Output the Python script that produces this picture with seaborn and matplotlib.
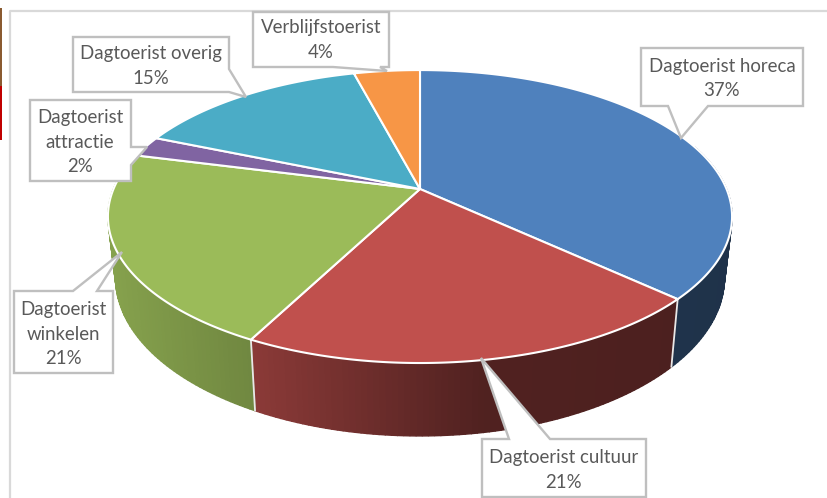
import numpy as np
import matplotlib
matplotlib.use("Agg")
import matplotlib.pyplot as plt
import seaborn as sns

categories = ["Dagtoerist horeca", "Dagtoerist cultuur", "Dagtoerist winkelen",
              "Dagtoerist attractie", "Dagtoerist overig", "Verblijfstoerist"]
values = [36.9, 20.7, 21.4, 2.3, 14.6, 4.1]
colors = ["#4F81BD", "#C0504D", "#9BBB59", "#8064A2", "#4BACC6", "#F79646"]
label_text = ["Dagtoerist horeca", "Dagtoerist cultuur", "Dagtoerist\nwinkelen",
              "Dagtoerist\nattractie", "Dagtoerist overig", "Verblijfstoerist"]
# callout outlines in figure pixels
callouts = [
    [(641, 48), (803, 48), (803, 106), (708, 106), (681, 138), (668, 106), (641, 106)],
    [(482, 439), (509, 439), (481, 358), (550, 439), (646, 439), (646, 497), (482, 497)],
    [(14, 291), (73, 291), (122, 252), (97, 291), (113, 291), (113, 373), (14, 373)],
    [(30, 100), (131, 100), (131, 147), (147, 147), (131, 165), (131, 181), (30, 181)],
    [(73, 37), (229, 37), (229, 69), (246, 97), (229, 92), (73, 92)],
    [(253, 12), (389, 12), (389, 67), (380, 67), (387, 71), (333, 67), (253, 67)],
]
label_xy = [(722, 78.5), (564, 470), (63, 334), (80, 142), (151, 66), (321, 40)]

sns.set_theme(style="white")
plt.rcParams["font.family"] = ["Lato", "DejaVu Sans"]
palette = sns.color_palette(colors)

fig = plt.figure(figsize=(8.27, 4.98), dpi=100, facecolor="white")
ax = fig.add_axes([0, 0, 1, 1])
ax.set_xlim(0, 827)
ax.set_ylim(498, 0)
ax.axis("off")


def project(theta, cx, cy, a, b, k):
    up = np.cos(theta)
    den = 1 + k * up
    return cx + a * np.sin(theta) / den, cy - b * up / den


TOP = dict(cx=420, cy=189, a=306.5, b=141.3, k=0.188)
BOT = dict(cx=420, cy=248, a=299.0, b=152.6, k=0.188)
SHADE_X = [115, 256, 480, 730]
SHADE_V = [0.86, 0.72, 0.42, 0.39]

# outer frame and the sliver of the neighbouring picture
ax.plot([10, 10, 827], [498, 11, 11], color="#d9d9d9", lw=1.6, zorder=1)
ax.fill_between([0, 2], 8, 86, color="#8a5a30", lw=0, zorder=1)
ax.fill_between([0, 2], 86, 140, color="#c00000", lw=0, zorder=1)

edges = np.cumsum([0] + list(values)) / np.sum(values) * 2 * np.pi

# side wall
for i, col in enumerate(palette):
    n = max(int((edges[i + 1] - edges[i]) * 60), 2)
    th = np.linspace(edges[i], edges[i + 1], n + 1)
    for t0, t1 in zip(th[:-1], th[1:]):
        if np.cos(t0) > 0.3 and np.cos(t1) > 0.3:
            continue
        xa, ya = project(np.array([t0, t1]), **TOP)
        xb, yb = project(np.array([t1, t0]), **BOT)
        f = np.interp((xa.mean() + xb.mean()) / 2, SHADE_X, SHADE_V)
        shade = tuple(c * f for c in col)
        ax.fill(np.r_[xa, xb], np.r_[ya, yb], fc=shade, ec=shade, lw=1.0, zorder=2)

# separators on the wall
for t in edges[1:-1]:
    if np.cos(t) < 0:
        x0, y0 = project(t, **TOP)
        x1, y1 = project(t, **BOT)
        ax.plot([x0, x1], [y0, y1], color="#e8e8e8", lw=1.3, zorder=3)

# top face
for i, col in enumerate(palette):
    th = np.linspace(edges[i], edges[i + 1], 200)
    x, y = project(th, **TOP)
    ax.fill(np.r_[TOP["cx"], x], np.r_[TOP["cy"], y], fc=col, ec="white",
            lw=1.5, joinstyle="round", zorder=4)

# callouts
for name, pts, (tx, ty), v in zip(label_text, callouts, label_xy, values):
    px, py = zip(*pts)
    ax.fill(px, py, fc="white", ec="#bfbfbf", lw=1.7, joinstyle="miter", zorder=5)
    ax.text(tx, ty, f"{name}\n{round(v)}%", ha="center", va="center",
            fontsize=13.4, color="#595959", linespacing=1.52, zorder=6)

fig.savefig("out.png", dpi=100, facecolor="white")
